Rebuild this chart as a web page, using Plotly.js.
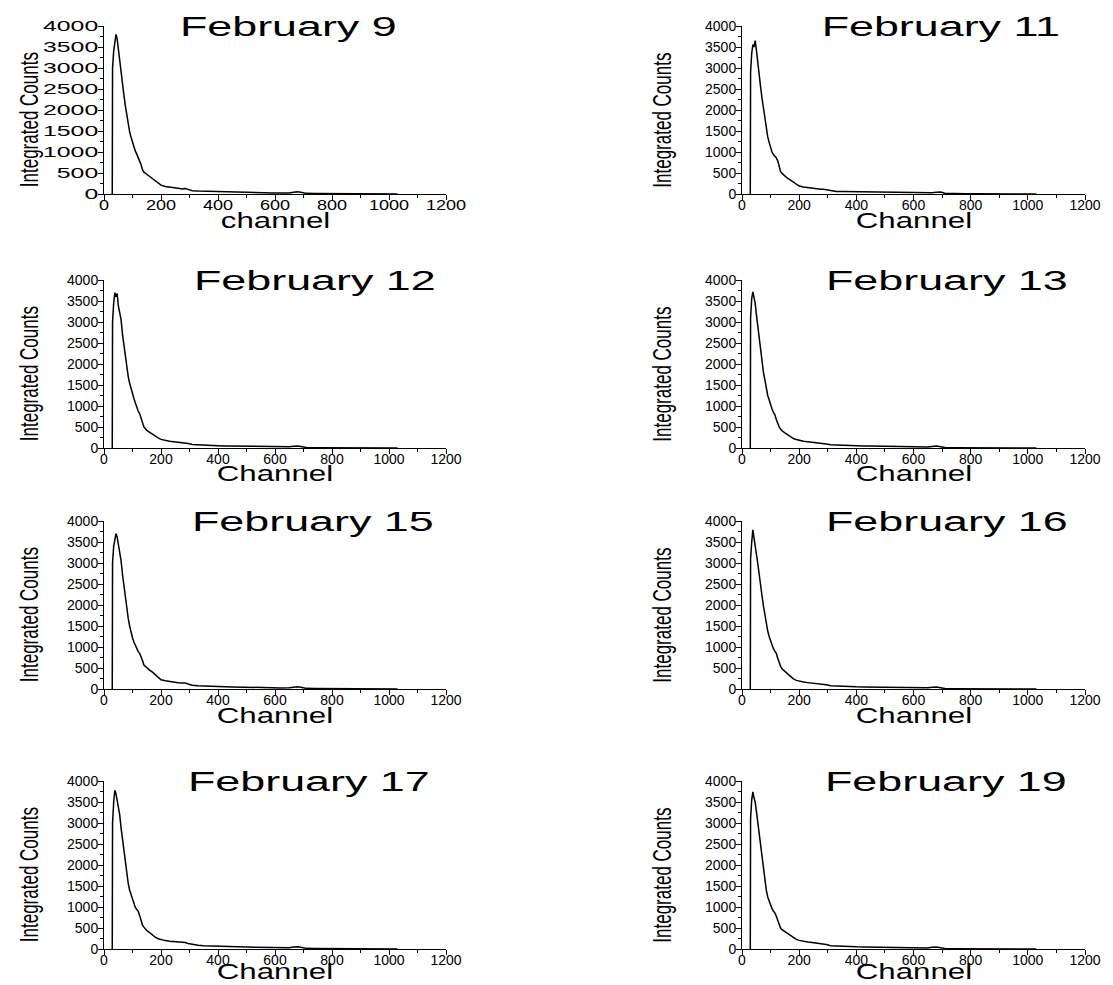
<!DOCTYPE html>
<html><head><meta charset="utf-8">
<script src="https://cdn.plot.ly/plotly-3.0.1.min.js"></script>
<style>
html,body{margin:0;padding:0;background:#fff;}
</style></head>
<body><div id="chart" style="width:1113px;height:985px;"></div>
<script>
// ---- data ----
const channel = [29,30,34,38,42,46,50,55,60,65,70,75,80,85,90,95,100,105,110,115,120,125,130,135,140,150,160,170,180,190,200,215,230,245,260,275,285,295,310,330,350,375,400,425,450,475,500,530,560,590,620,650,665,680,695,710,740,780,820,860,900,950,1000,1030];

const countsFeb09 = [0,3000,3400,3650,3800,3700,3450,3200,2900,2600,2350,2100,1850,1620,1480,1350,1230,1120,1020,950,880,800,700,580,520,470,420,370,320,250,210,180,160,150,135,120,130,110,80,70,65,60,55,55,50,45,38,35,30,25,22,25,40,55,35,15,10,8,6,5,4,3,2,0];
const countsFeb11 = [0,2900,3350,3560,3500,3650,3450,3100,2850,2550,2280,2020,1800,1580,1360,1230,1100,1000,940,900,860,790,640,530,490,420,370,330,280,230,190,165,150,138,130,112,115,105,80,62,58,55,50,48,50,42,38,32,30,25,20,22,30,40,45,20,10,7,6,5,4,3,2,0];
const countsFeb12 = [0,3000,3450,3700,3600,3680,3400,3250,3050,2700,2420,2150,1900,1700,1540,1400,1280,1180,1070,960,880,820,730,620,500,420,370,330,290,240,205,180,160,150,140,115,120,105,85,75,65,58,55,50,48,45,40,35,30,25,22,28,40,50,30,12,8,7,6,5,4,3,2,0];
const countsFeb13 = [0,3100,3560,3720,3580,3450,3200,2900,2620,2250,1980,1800,1620,1420,1250,1150,1000,930,850,790,680,560,500,450,410,360,310,270,225,200,180,160,150,140,120,112,110,95,75,68,60,55,50,48,45,42,38,32,28,24,20,25,38,45,28,12,8,6,5,4,4,3,2,0];
const countsFeb15 = [0,3000,3400,3620,3700,3620,3450,3250,3050,2720,2430,2170,1900,1680,1500,1340,1220,1120,1030,940,890,850,780,680,570,500,450,400,340,270,220,195,175,165,150,140,145,120,90,78,70,62,58,55,50,45,42,38,32,28,25,30,45,55,35,15,10,8,6,5,4,3,2,0];
const countsFeb16 = [0,3100,3500,3790,3600,3450,3230,3000,2700,2450,2220,1980,1750,1530,1380,1250,1140,1040,960,900,850,730,610,540,480,410,360,300,240,205,185,165,152,142,130,125,120,100,80,70,62,58,52,50,48,42,40,35,30,26,22,28,42,50,30,12,8,6,5,4,4,3,2,0];
const countsFeb17 = [0,3000,3500,3780,3700,3550,3480,3200,2880,2600,2320,2050,1780,1560,1400,1290,1180,1060,990,940,900,800,660,570,520,440,390,330,280,245,220,200,185,175,160,150,155,130,105,90,78,70,62,58,55,50,45,40,35,30,26,30,45,55,35,15,10,8,6,5,4,3,2,0];
const countsFeb19 = [0,3100,3550,3740,3600,3500,3300,3020,2780,2420,2150,1850,1600,1400,1240,1130,1020,960,900,860,780,680,560,500,460,410,360,315,270,230,205,180,165,155,140,128,125,105,80,70,62,58,52,50,47,42,38,33,30,26,22,26,40,50,32,12,8,6,5,4,4,3,2,0];

const panelTitles = ['February 9','February 11','February 12','February 13','February 15','February 16','February 17','February 19'];
const xTitles = ['channel','Channel','Channel','Channel','Channel','Channel','Channel','Channel'];
const yTitle = 'Integrated Counts';
const xTickVals = [0,200,400,600,800,1000,1200];
const xTickText = ['0','200','400','600','800','1000','1200'];
const yTickVals = [0,500,1000,1500,2000,2500,3000,3500,4000];
const yTickText = ['0','500','1000','1500','2000','2500','3000','3500','4000'];
const allCounts = [countsFeb09,countsFeb11,countsFeb12,countsFeb13,countsFeb15,countsFeb16,countsFeb17,countsFeb19];

// ---- layout geometry (pixels) ----
const W = 1113, H = 985;
const cols = [{x0:104,x1:446,yt:29},{x0:742,x1:1085,yt:661.5}];
const rows = [{y0:26,y1:194},{y0:280,y1:448},{y0:521,y1:689},{y0:781,y1:949}];
const titleCenters = [288,941,315,947,313,947,309,946];
const FONT = 'Liberation Sans, Arial, sans-serif';

const traces = [];
const layout = {
  width: W, height: H,
  margin: {l:0,r:0,t:0,b:0},
  paper_bgcolor: '#fff', plot_bgcolor: '#fff',
  showlegend: false,
  annotations: []
};

for (let i = 0; i < 8; i++) {
  const ri = Math.floor(i/2);
  const r = rows[ri], c = cols[i%2];
  const n = i === 0 ? '' : String(i+1);
  traces.push({
    x: channel, y: allCounts[i], type: 'scatter', mode: 'lines',
    line: {color:'#000', width:1.5}, hoverinfo:'skip',
    xaxis: 'x'+n, yaxis: 'y'+n
  });
  layout['xaxis'+n] = {
    domain: [c.x0/W, c.x1/W], anchor: 'y'+n, range: [0,1200],
    tickmode: 'array', tickvals: xTickVals, ticktext: xTickText,
    ticks: 'outside', ticklen: 5, tickwidth: 1, tickcolor: '#000',
    minor: {tickmode:'linear', tick0:0, dtick:100, ticks:'outside', ticklen:3, tickcolor:'#000', showgrid:false},
    showline: true, linecolor: '#000', linewidth: 1,
    showgrid: false, zeroline: false, ticklabelstandoff: -7,
    tickfont: {family:FONT, size:14, color:'#000'}, fixedrange: true
  };
  layout['yaxis'+n] = {
    domain: [1-r.y1/H, 1-r.y0/H], anchor: 'x'+n, range: [0,4000],
    tickmode: 'array', tickvals: yTickVals, ticktext: yTickText,
    ticks: 'outside', ticklen: 5, tickwidth: 1, tickcolor: '#000',
    minor: {tickmode:'linear', tick0:0, dtick:250, ticks:'outside', ticklen:3, tickcolor:'#000', showgrid:false},
    showline: true, linecolor: '#000', linewidth: 1,
    showgrid: false, zeroline: false, ticklabelstandoff: -3,
    tickfont: {family:FONT, size:14, color:'#000'}, fixedrange: true
  };
  layout.annotations.push({
    text: panelTitles[i], xref:'paper', yref:'paper', borderpad:0,
    x: titleCenters[i]/W, y: 1-(r.y0+1)/H, xanchor:'center', yanchor:'middle', showarrow:false,
    font: {family:FONT, size:27, color:'#000'}
  });
  const lastRow = ri === rows.length - 1;
  layout.annotations.push({
    text: xTitles[i], xref:'paper', yref:'paper', borderpad:0,
    x: (c.x0+c.x1)/2/W,
    y: lastRow ? 0.0005 : 1-(r.y1+26)/H,
    xanchor:'center', yanchor: lastRow ? 'bottom' : 'middle', showarrow:false,
    font: {family:FONT, size:22, color:'#000'}
  });
  layout.annotations.push({
    text: yTitle, xref:'paper', yref:'paper', textangle: -90, borderpad:0,
    x: c.yt/W, y: 1-((r.y0+r.y1)/2+10)/H, xanchor:'center', yanchor:'middle', showarrow:false,
    font: {family:FONT, size:25, color:'#000'}
  });
}

// horizontal stretch of the lettering, as in the reference figure
function fitText(el, f) {
  const w = el.getComputedTextLength();
  if (w > 0) {
    el.setAttribute('lengthAdjust', 'spacingAndGlyphs');
    el.setAttribute('textLength', (w * f).toFixed(2));
  }
}

Plotly.newPlot('chart', traces, layout, {staticPlot:true, displayModeBar:false}).then(gd => {
  gd.querySelectorAll('.xtick text').forEach(t => fitText(t, 1.29));
  gd.querySelectorAll('.ytick text').forEach(t => fitText(t, 1.77));
  gd.querySelectorAll('text.annotation-text').forEach(t => {
    const s = t.textContent;
    if (s === yTitle) fitText(t, 0.68);
    else if (/channel/i.test(s)) fitText(t, 1.42);
    else fitText(t, 1.66);
  });
});
</script></body></html>
